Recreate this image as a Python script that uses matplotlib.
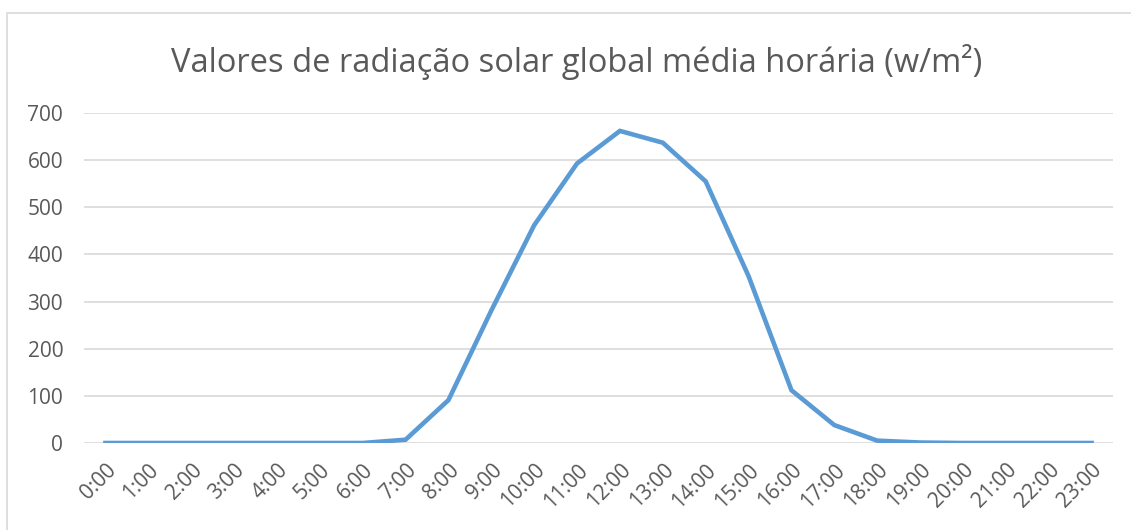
import numpy as np
import matplotlib
matplotlib.use("Agg")
import matplotlib.pyplot as plt
from matplotlib.patches import Rectangle

# dados
horas = [f"{h}:00" for h in range(24)]
radiacao = [0, 0, 0, 0, 0, 0, 0, 7, 91, 281, 462, 593, 662, 637, 555, 354, 112, 38, 5, 1, 0, 0, 0, 0]
yticks = [0, 100, 200, 300, 400, 500, 600, 700]

W, H = 1131, 530
fig = plt.figure(figsize=(W / 100, H / 100), dpi=100)
plt.rcParams['font.family'] = ['Open Sans', 'DejaVu Sans']

# borda do gráfico
fig.patches.append(Rectangle((7 / W, -0.05), 1.2, (H - 13) / H + 0.05, transform=fig.transFigure,
                             fill=False, edgecolor='#d9d9d9', linewidth=1.2))

ax = fig.add_axes([84 / W, 1 - 443 / H, (1113 - 84) / W, (443 - 113) / H])
x = np.arange(len(horas))
ax.plot(x, radiacao, color='#5b9bd5', linewidth=3.3, solid_joinstyle='miter', zorder=3)

ax.set_xlim(-0.5, 23.5)
ax.set_ylim(0, 700)
ax.set_yticks(yticks)
ax.set_xticks(x)
ax.set_xticklabels(horas, rotation=45, ha='right', rotation_mode='anchor')
ax.tick_params(axis='both', length=0, labelsize=15, labelcolor='#595959')
ax.tick_params(axis='y', pad=15)
ax.tick_params(axis='x', pad=12)
ax.grid(axis='y', color='#d9d9d9', linewidth=1.2)
ax.set_axisbelow(True)
for s in ax.spines.values():
    s.set_visible(False)

fig.text(577 / W, 1 - 62 / H, "Valores de radiação solar global média horária (w/m²)",
         ha='center', va='center', fontsize=23.5, color='#595959')

fig.savefig("out.png", dpi=100)
